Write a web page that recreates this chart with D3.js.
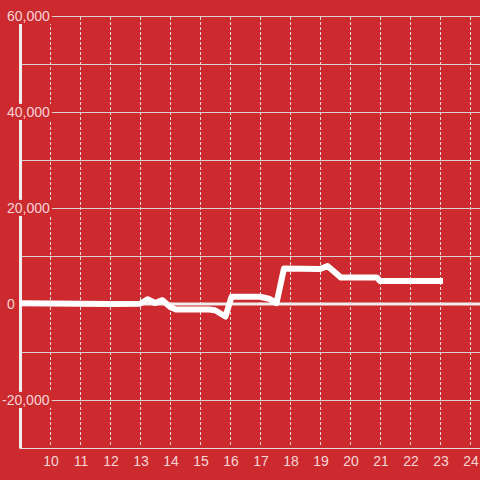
<!DOCTYPE html>
<html><head><meta charset="utf-8">
<script src="https://cdn.jsdelivr.net/npm/d3@7"></script>
<style>html,body{margin:0;padding:0;background:#cc2a2f;}svg{display:block;}</style>
</head><body>
<svg id="c" width="480" height="480"></svg>
<script>
// data
const hours = [9.0, 12.0, 13.0, 13.25, 13.5, 13.75, 14.0, 14.2, 15.3, 15.5, 15.85, 16.05, 17.0, 17.3, 17.55, 17.8, 19.0, 19.25, 19.7, 20.9, 21.0, 23.1];
const values = [150, 0, 50, 1000, 200, 800, -600, -1150, -1150, -1300, -2600, 1500, 1500, 1100, 200, 7400, 7300, 7900, 5500, 5500, 4800, 4800];
const xTicks = [10, 11, 12, 13, 14, 15, 16, 17, 18, 19, 20, 21, 22, 23, 24];
const yTicks = [60000, 40000, 20000, 0, -20000];
const yGrid = [60000, 50000, 40000, 30000, 20000, 10000, 0, -10000, -20000, -30000];

const bg = "#cc2a2f";
const svg = d3.select("#c");
svg.append("rect").attr("width", 480).attr("height", 480).attr("fill", bg);

const x = d3.scaleLinear().domain([9, 24]).range([20, 470]);
const y = d3.scaleLinear().domain([-30000, 60000]).range([448, 16]);

// horizontal grid
svg.append("g").selectAll("line").data(yGrid).join("line")
  .attr("x1", 20).attr("x2", 480)
  .attr("y1", d => y(d) + 0.5).attr("y2", d => y(d) + 0.5)
  .attr("stroke", "#d9d4d4").attr("stroke-width", 1);

// vertical dashed grid
svg.append("g").selectAll("line").data(xTicks).join("line")
  .attr("x1", d => x(d) + 0.5).attr("x2", d => x(d) + 0.5)
  .attr("y1", 17).attr("y2", 447)
  .attr("stroke", "#e6dada").attr("stroke-width", 1)
  .attr("stroke-dasharray", "3,2");

// x axis line
svg.append("line").attr("x1", 20).attr("x2", 480)
  .attr("y1", y(-30000) + 0.5).attr("y2", y(-30000) + 0.5)
  .attr("stroke", "#dcdcdc").attr("stroke-width", 1.2);

// zero line
svg.append("line").attr("x1", 20).attr("x2", 480)
  .attr("y1", y(0)).attr("y2", y(0))
  .attr("stroke", "#eeeeee").attr("stroke-width", 3);

// y axis line
svg.append("line").attr("x1", 20.5).attr("x2", 20.5)
  .attr("y1", 24).attr("y2", 448.5)
  .attr("stroke", "#eeeeee").attr("stroke-width", 3);

// data line
const line = d3.line().x((d, i) => x(hours[i])).y(d => y(d));
svg.append("path").datum(values)
  .attr("d", line)
  .attr("fill", "none").attr("stroke", "#ffffff")
  .attr("stroke-width", 6).attr("stroke-linejoin", "round")
  .attr("stroke-linecap", "butt");

// y labels with background
const yl = svg.append("g");
yTicks.forEach(v => {
  const g = yl.append("g");
  const t = g.append("text")
    .attr("x", v < 0 ? 2 : 7).attr("y", y(v)).attr("dy", "0.35em")
    .attr("font-family", "'Liberation Sans', Arial, sans-serif").attr("font-size", 14)
    .attr("fill", "#fbe6e6").attr("fill-opacity", 0.92)
    .text(d3.format(",")(v).replace("−", "-"));
  const b = t.node().getBBox();
  g.insert("rect", "text").attr("x", b.x - 2).attr("y", b.y).attr("width", b.width + 4).attr("height", b.height)
    .attr("fill", bg);
});

// x labels
svg.append("g").selectAll("text").data(xTicks).join("text")
  .attr("x", d => x(d) + 1).attr("y", 466)
  .attr("text-anchor", "middle")
  .attr("font-family", "'Liberation Sans', Arial, sans-serif").attr("font-size", 14)
  .attr("fill", "#fbe6e6").attr("fill-opacity", 0.92)
  .text(d => d);
</script>
</body></html>
